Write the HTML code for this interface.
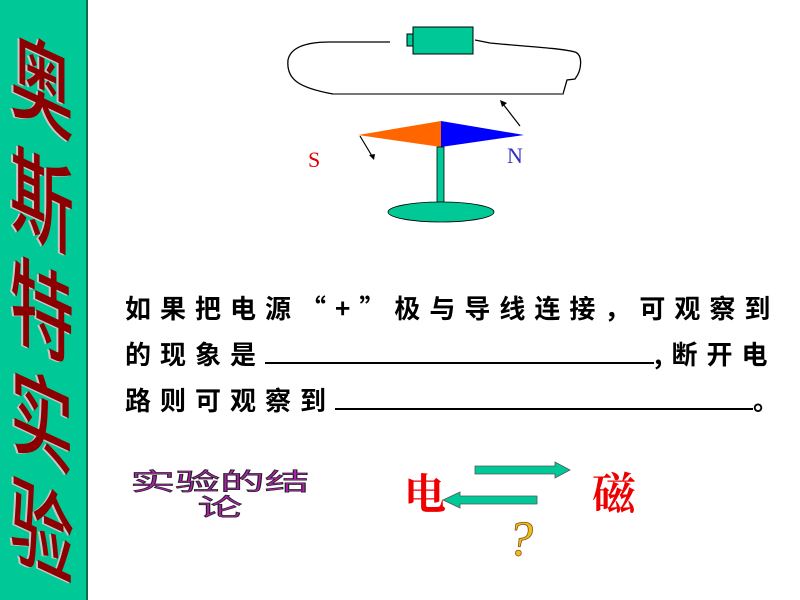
<!DOCTYPE html>
<html><head><meta charset="utf-8"><style>
body{margin:0;width:800px;height:600px;background:#fff;position:relative;overflow:hidden;font-family:"Liberation Sans","Noto Sans CJK SC",sans-serif}
#side{position:absolute;left:0;top:0;width:86px;height:600px;background:#00C896;border-right:2px solid #0a6b50;overflow:hidden}
.sc{position:absolute;left:10px;width:70px;font-size:64px;line-height:64px;color:#8b0000;text-shadow:-2px 1px 0 #c8c8c8;transform:skewY(25deg) scaleY(1.5);font-family:"Noto Sans CJK SC",sans-serif;font-weight:500}
.t{position:absolute;left:125px;font-size:26px;font-weight:bold;letter-spacing:9px;color:#000;white-space:nowrap;font-family:"Noto Sans CJK SC",sans-serif;line-height:30px}
.u{display:inline-block;border-bottom:2px solid #000;height:20px;vertical-align:baseline}
</style></head><body>
<div id="side">
<div class="sc" style="top:50px">奥</div>
<div class="sc" style="top:165px">斯</div>
<div class="sc" style="top:275px">特</div>
<div class="sc" style="top:385px">实</div>
<div class="sc" style="top:495px">验</div>
</div>
<svg width="800" height="600" style="position:absolute;left:0;top:0">
<path d="M390,42 L330,42 C300,42 290,50 288,60 C286,80 300,88 333,94 L563,94 L567,80 L575,79 C582,70 583,55 575,52 C560,48 520,46 490,43 L475,40" fill="none" stroke="#000" stroke-width="1.3"/>
<line x1="333" y1="94" x2="563" y2="94" stroke="#777" stroke-width="2"/>
<rect x="413" y="27" width="60" height="27" fill="#00C896" stroke="#000" stroke-width="1"/>
<rect x="407" y="34" width="6" height="12" fill="#00C896" stroke="#000" stroke-width="1"/>
<polygon points="358,135 441,121 441,147" fill="#FF6600"/>
<polygon points="441,121 524,135 441,147" fill="#0000FF"/>
<rect x="437" y="147" width="7" height="55" fill="#00C896" stroke="#000" stroke-width="0.8"/>
<ellipse cx="441" cy="212" rx="53" ry="10" fill="#00C896" stroke="#000" stroke-width="0.8"/>
<line x1="520" y1="126" x2="503" y2="104" stroke="#000" stroke-width="1.2"/>
<polygon points="500,100 507,103 502,107" fill="#000"/>
<line x1="360" y1="136" x2="372" y2="156" stroke="#000" stroke-width="1.2"/>
<polygon points="374,160 369,155 375,154" fill="#000"/>
<text x="308" y="167" font-family="Liberation Serif" font-size="22" fill="#e00000">S</text>
<text x="507" y="163" font-family="Liberation Serif" font-size="22" fill="#3030c0">N</text>
<polygon points="475,466 555,466 555,462 570,470 555,478 555,474 475,474" fill="#00C896" stroke="#555" stroke-width="0.8"/>
<polygon points="537,496 460,496 460,492 443,500 460,508 460,504 537,504" fill="#00C896" stroke="#555" stroke-width="0.8"/>
<text x="508" y="555" font-family="Liberation Serif" font-size="50" font-style="italic" fill="#e8c020" stroke="#905010" stroke-width="0.8">?</text>
</svg>
<div class="t" style="top:293px">如果把电源“+”极与导线连接，可观察到</div>
<div class="t" style="top:339px">的现象是<span class="u" style="width:389px;letter-spacing:0"></span>,断开电</div>
<div class="t" style="top:385px">路则可观察到<span class="u" style="width:418px;letter-spacing:0"></span>。</div>
<div style="position:absolute;left:128px;top:468px;font-size:28px;line-height:30px;color:#b020b0;-webkit-text-stroke:0.8px #222;transform:scale(1.6,0.85);transform-origin:left top;width:115px;text-align:center;font-family:'Noto Sans CJK SC',sans-serif">实验的结<br>论</div>
<div style="position:absolute;left:404px;top:462px;font-size:42px;font-weight:bold;color:#ee0000;font-family:'Noto Serif CJK SC',serif">电</div>
<div style="position:absolute;left:592px;top:458px;font-size:44px;font-weight:bold;color:#ee0000;font-family:'Noto Serif CJK SC',serif">磁</div>
</body></html>
